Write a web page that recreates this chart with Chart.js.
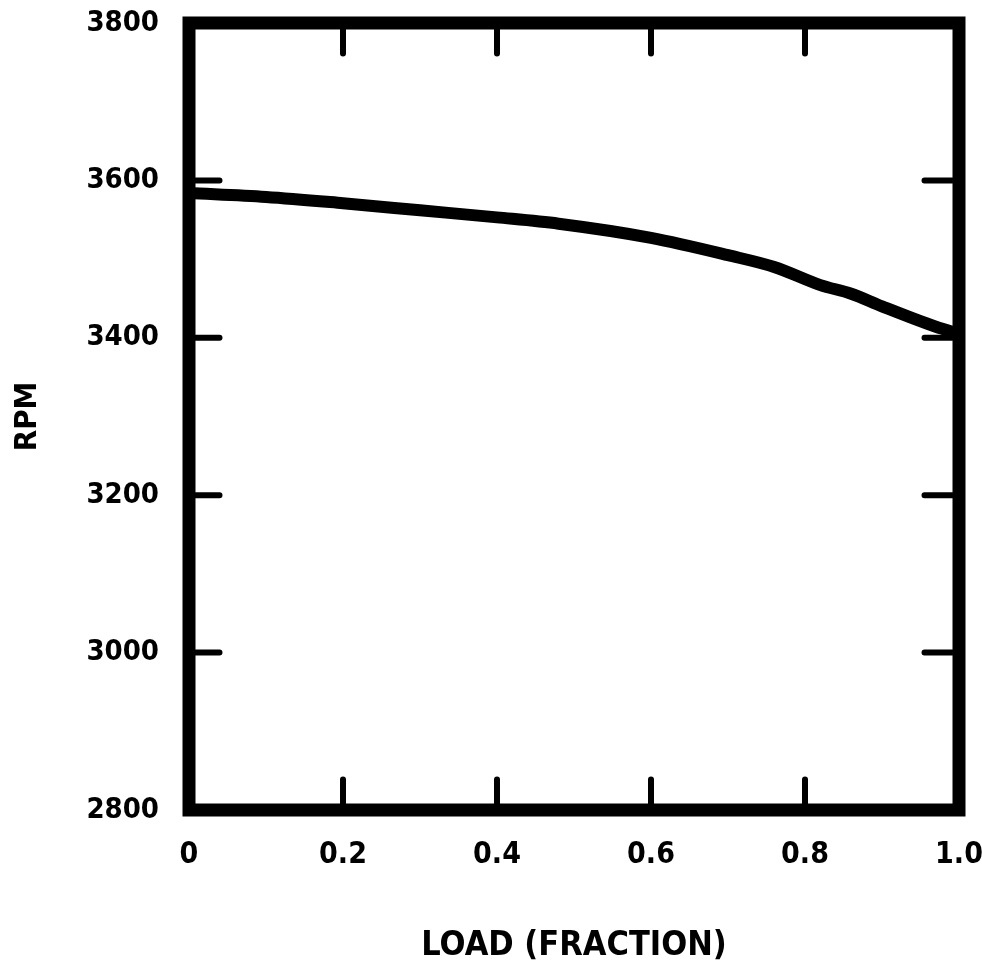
<!DOCTYPE html>
<html>
<head>
<meta charset="utf-8">
<script src="https://cdn.jsdelivr.net/npm/chart.js@4"></script>
<style>
  html, body { margin: 0; padding: 0; background: #fff; }
  #wrap { width: 982px; height: 976px; }
</style>
</head>
<body>
<div id="wrap"><canvas id="grafico"></canvas></div>
<script>
// dados
const cargaX = [0, 0.1, 0.2, 0.3, 0.4, 0.48, 0.6, 0.7, 0.76, 0.82, 0.86, 0.9, 0.97, 1.0];
const rotacaoRPM = [3584, 3579, 3571, 3562, 3553, 3545, 3527, 3505, 3490, 3467, 3456, 3440, 3414, 3405];
const rotulosX = ['0', '0.2', '0.4', '0.6', '0.8', '1.0'];
const rotulosY = ['2800', '3000', '3200', '3400', '3600', '3800'];
const marcasX = [0.2, 0.4, 0.6, 0.8];
const marcasY = [3000, 3200, 3400, 3600];

const fonte = "'DejaVu Sans Condensed', 'Liberation Sans Narrow', sans-serif";

// moldura grossa e marcas internas
const moldura = {
    id: 'moldura',
    afterDatasetsDraw(chart) {
        const { ctx, chartArea: a, scales } = chart;
        const esp = 13;
        const meia = esp / 2;
        ctx.save();
        ctx.strokeStyle = '#000';
        ctx.lineWidth = esp;
        ctx.lineJoin = 'miter';
        ctx.strokeRect(a.left, a.top, a.right - a.left, a.bottom - a.top);

        ctx.lineWidth = 6;
        ctx.lineCap = 'round';
        const comp = 24;
        marcasX.forEach(v => {
            const x = scales.x.getPixelForValue(v);
            ctx.beginPath();
            ctx.moveTo(x, a.top + meia);
            ctx.lineTo(x, a.top + meia + comp);
            ctx.moveTo(x, a.bottom - meia);
            ctx.lineTo(x, a.bottom - meia - comp);
            ctx.stroke();
        });
        marcasY.forEach(v => {
            const y = scales.y.getPixelForValue(v);
            ctx.beginPath();
            ctx.moveTo(a.left + meia, y);
            ctx.lineTo(a.left + meia + comp, y);
            ctx.moveTo(a.right - meia, y);
            ctx.lineTo(a.right - meia - comp - 4, y);
            ctx.stroke();
        });
        ctx.restore();
    }
};

new Chart(document.getElementById('grafico'), {
    type: 'line',
    data: {
        datasets: [{
            data: cargaX.map((x, i) => ({ x: x, y: rotacaoRPM[i] })),
            borderColor: '#000',
            borderWidth: 12,
            pointRadius: 0,
            cubicInterpolationMode: 'monotone',
            fill: false
        }]
    },
    options: {
        responsive: true,
        maintainAspectRatio: false,
        animation: false,
        layout: { padding: { top: 23, right: 23, left: 0, bottom: 0 } },
        plugins: {
            legend: { display: false },
            tooltip: { enabled: false }
        },
        scales: {
            x: {
                type: 'linear',
                min: 0,
                max: 1,
                afterFit(scale) {
                    scale.height = 166;
                    scale.paddingLeft = 0;
                    scale.paddingRight = 0;
                },
                afterBuildTicks(scale) {
                    scale.ticks = rotulosX.map(t => ({ value: parseFloat(t) }));
                },
                grid: { display: false, drawTicks: false },
                border: { display: false },
                ticks: {
                    padding: 27,
                    color: '#000',
                    maxRotation: 0,
                    autoSkip: false,
                    font: { family: fonte, size: 30, weight: 'bold' },
                    callback: (v) => rotulosX[Math.round(v * 5)]
                },
                title: {
                    display: true,
                    text: 'LOAD (FRACTION)',
                    color: '#000',
                    font: { family: fonte, size: 34, weight: 'bold' },
                    padding: { top: 0, bottom: 9 }
                }
            },
            y: {
                type: 'linear',
                min: 2800,
                max: 3800,
                afterFit(scale) {
                    scale.width = 189;
                    scale.paddingTop = 0;
                    scale.paddingBottom = 0;
                },
                afterBuildTicks(scale) {
                    scale.ticks = rotulosY.map(t => ({ value: parseFloat(t) }));
                },
                grid: { display: false, drawTicks: false },
                border: { display: false },
                ticks: {
                    padding: 30,
                    color: '#000',
                    autoSkip: false,
                    font: { family: fonte, size: 29, weight: 'bold' },
                    callback: (v) => rotulosY[Math.round((v - 2800) / 200)]
                },
                title: {
                    display: true,
                    text: 'RPM',
                    color: '#000',
                    font: { family: fonte, size: 31, weight: 'bold' },
                    padding: { top: 9, bottom: 0 }
                }
            }
        }
    },
    plugins: [moldura]
});
</script>
</body>
</html>
